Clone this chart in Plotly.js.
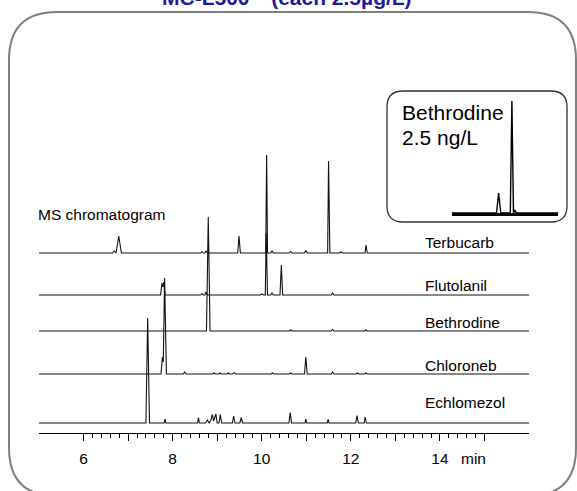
<!DOCTYPE html>
<html>
<head>
<meta charset="utf-8">
<script src="https://cdn.plot.ly/plotly-3.0.1.min.js"></script>
<style>html,body{margin:0;padding:0;background:#fff}</style>
</head>
<body>
<div id="chart" style="width:577px;height:491px"></div>
<script>
// ---- data (retention time in min, signal in arbitrary units) ----
const compounds = ['Terbucarb', 'Flutolanil', 'Bethrodine', 'Chloroneb', 'Echlomezol'];

const terbucarbT = [5.00, 6.65, 6.69, 6.72, 6.73, 6.79, 6.85, 8.63, 8.66, 8.69, 8.72, 8.75, 8.78, 9.46, 9.49, 9.52, 10.09, 10.11, 10.13, 10.20, 10.23, 10.26, 10.62, 10.65, 10.68, 10.96, 10.99, 11.02, 11.48, 11.50, 11.53, 11.75, 11.78, 11.81, 12.32, 12.34, 12.37, 16.00];
const terbucarbV = [0, 0, 2, 0, 0, 17, 0, 0, 1.5, 0, 0, 2, 0, 0, 17, 0, 0, 98, 0, 0, 2, 0, 0, 1.5, 0, 0, 2.5, 0, 0, 92, 0, 0, 1, 0, 0, 8, 0, 0];

const flutolanilT = [5.00, 7.73, 7.76, 7.78, 7.80, 7.83, 8.63, 8.66, 8.69, 8.72, 8.75, 8.78, 9.97, 10.00, 10.04, 10.08, 10.10, 10.13, 10.20, 10.23, 10.26, 10.41, 10.44, 10.47, 11.56, 11.59, 11.62, 16.00];
const flutolanilV = [0, 0, 12, 8, 13, 0, 0, 1.5, 0, 0, 3, 0, 0, 1, 0, 0, 62, 0, 0, 2, 0, 0, 30, 0, 0, 2, 0, 0];

const bethrodineT = [5.00, 8.76, 8.80, 8.84, 10.62, 10.65, 10.68, 11.56, 11.59, 11.62, 12.31, 12.34, 12.37, 16.00];
const bethrodineV = [0, 0, 114, 0, 0, 1, 0, 0, 1.5, 0, 0, 1, 0, 0];

const chloronebT = [5.00, 7.74, 7.77, 7.79, 7.82, 7.86, 8.24, 8.27, 8.30, 8.90, 8.93, 8.96, 9.03, 9.06, 9.09, 9.22, 9.25, 9.28, 9.35, 9.38, 9.41, 10.21, 10.24, 10.27, 10.62, 10.65, 10.68, 10.96, 10.99, 11.02, 11.56, 11.59, 11.62, 12.12, 12.15, 12.18, 12.31, 12.34, 12.37, 16.00];
const chloronebV = [0, 0, 17, 12, 96, 0, 0, 2, 0, 0, 1, 0, 0, 1, 0, 0, 1, 0, 0, 1.5, 0, 0, 1, 0, 0, 1, 0, 0, 17, 0, 0, 2, 0, 0, 1, 0, 0, 1, 0, 0];

const echlomezolT = [5.00, 7.40, 7.44, 7.48, 7.81, 7.83, 7.85, 8.56, 8.58, 8.60, 8.74, 8.78, 8.82, 8.86, 8.89, 8.92, 8.97, 9.00, 9.04, 9.07, 9.10, 9.34, 9.37, 9.40, 9.51, 9.54, 9.57, 10.61, 10.64, 10.67, 10.97, 10.99, 11.01, 11.47, 11.49, 11.51, 12.11, 12.14, 12.17, 12.30, 12.32, 12.35, 16.00];
const echlomezolV = [0, 0, 105, 0, 0, 4, 0, 0, 5.5, 0, 0, 3, 0, 3, 8.5, 2, 9, 0, 0, 8.5, 0, 0, 7, 0, 0, 5.5, 0, 0, 10.5, 0, 0, 4, 0, 0, 3.5, 0, 0, 7.5, 0, 0, 6, 0, 0];

// inset: Bethrodine at 2.5 ng/L
const insetT = [8.30, 8.72, 8.74, 8.76, 8.85, 8.865, 8.88, 8.89, 8.905, 8.92, 9.30];
const insetV = [0, 0, 20, 0, 0, 112, 0, 3, 0.5, 0, 0];

const tickLabels = ['6', '', '8', '', '10', '', '12', '', '14', ''];
const tickValues = [6, 7, 8, 9, 10, 11, 12, 13, 14, 15];

const titleText = 'MC-L500"  (each 2.5µg/L)';
const axisUnit = 'min';
const yLabel = 'MS chromatogram';
const insetLabel = ['Bethrodine', '2.5 ng/L'];

// ---- layout helpers (pixel -> paper) ----
const W = 577, H = 491;
const px = x => x / W;
const py = y => 1 - y / H;
function roundRect(x0, y0, x1, y1, r) {
  const p = (x, y) => px(x) + ',' + py(y);
  return 'M' + p(x0 + r, y0) + ' L' + p(x1 - r, y0) + ' Q' + p(x1, y0) + ' ' + p(x1, y0 + r) +
    ' L' + p(x1, y1 - r) + ' Q' + p(x1, y1) + ' ' + p(x1 - r, y1) +
    ' L' + p(x0 + r, y1) + ' Q' + p(x0, y1) + ' ' + p(x0, y1 - r) +
    ' L' + p(x0, y0 + r) + ' Q' + p(x0, y0) + ' ' + p(x0 + r, y0) + ' Z';
}

const offsets = [180, 138, 102, 59, 10]; // vertical stacking of the five traces
const seriesT = [terbucarbT, flutolanilT, bethrodineT, chloronebT, echlomezolT];
const seriesV = [terbucarbV, flutolanilV, bethrodineV, chloronebV, echlomezolV];

const traces = compounds.map((name, i) => ({
  type: 'scatter', mode: 'lines', name: name,
  x: seriesT[i], y: seriesV[i].map(v => v + offsets[i]),
  line: {color: '#111', width: 1.1}, xaxis: 'x', yaxis: 'y', hoverinfo: 'skip'
}));
traces.push({
  type: 'scatter', mode: 'lines', name: 'inset',
  x: insetT, y: insetV, line: {color: '#000', width: 1.4},
  xaxis: 'x2', yaxis: 'y2', hoverinfo: 'skip'
});

const minorVals = [];
for (let k = 0; k <= 45; k++) { if (k % 5) minorVals.push(+(6 + k * 0.2).toFixed(1)); }

const font = 'Arial, "Liberation Sans", sans-serif';
const labelY = [242, 285, 322, 365, 402];
const annotations = compounds.map((c, i) => ({
  text: c, xref: 'paper', yref: 'paper', x: px(423), y: py(labelY[i]),
  xanchor: 'left', yanchor: 'middle', showarrow: false,
  font: {family: font, size: 15.5, color: '#000'}
}));
annotations.push(
  {text: yLabel, xref: 'paper', yref: 'paper', x: px(36), y: py(215), xanchor: 'left', yanchor: 'middle',
   showarrow: false, font: {family: font, size: 15.5, color: '#000'}},
  {text: axisUnit, xref: 'paper', yref: 'paper', x: px(459), y: py(458), xanchor: 'left', yanchor: 'middle',
   showarrow: false, font: {family: font, size: 15.5, color: '#000'}},
  {text: insetLabel[0], xref: 'paper', yref: 'paper', x: px(400), y: py(112), xanchor: 'left', yanchor: 'middle',
   showarrow: false, font: {family: font, size: 21, color: '#000'}},
  {text: insetLabel[1], xref: 'paper', yref: 'paper', x: px(400), y: py(137), xanchor: 'left', yanchor: 'middle',
   showarrow: false, font: {family: font, size: 21, color: '#000'}},
  {text: '<b>' + titleText + '</b>', xref: 'paper', yref: 'paper', x: px(287), y: py(11), xanchor: 'center', yanchor: 'bottom',
   showarrow: false, font: {family: font, size: 21, color: '#1a1a99'}}
);

const layout = {
  width: W, height: H, autosize: false,
  margin: {l: 0, r: 0, t: 0, b: 0, pad: 0},
  paper_bgcolor: '#fff', plot_bgcolor: 'rgba(0,0,0,0)',
  showlegend: false,
  xaxis: {
    domain: [px(39), px(529)], range: [5, 16], anchor: 'y',
    showline: true, linecolor: '#000', linewidth: 1,
    ticks: 'outside', tickmode: 'array', tickvals: tickValues, ticktext: tickLabels,
    ticklen: 7, tickwidth: 1, tickcolor: '#000', ticklabelstandoff: 4,
    minor: {tickmode: 'array', tickvals: minorVals, ticks: 'outside', ticklen: 4, tickwidth: 1, tickcolor: '#000', showgrid: false},
    showgrid: false, zeroline: false, fixedrange: true,
    tickfont: {family: font, size: 15.5, color: '#000'}
  },
  yaxis: {domain: [py(433), py(60)], range: [0, 373], visible: false, fixedrange: true},
  xaxis2: {domain: [px(452), px(558)], range: [8.3, 9.3], anchor: 'y2',
    showline: true, linecolor: '#000', linewidth: 3, ticks: '', showticklabels: false,
    showgrid: false, zeroline: false, fixedrange: true},
  yaxis2: {domain: [py(213), py(100)], range: [0, 113], anchor: 'x2', visible: false, fixedrange: true},
  shapes: [
    {type: 'path', xref: 'paper', yref: 'paper', path: roundRect(9, 12, 576, 496, 48),
     line: {color: '#808080', width: 2}, fillcolor: 'rgba(0,0,0,0)', layer: 'below'},
    {type: 'path', xref: 'paper', yref: 'paper', path: roundRect(387, 91, 567, 222, 16),
     line: {color: '#333', width: 1.3}, fillcolor: 'rgba(0,0,0,0)', layer: 'below'}
  ],
  annotations: annotations
};

Plotly.newPlot('chart', traces, layout, {displayModeBar: false, staticPlot: true});
</script>
</body>
</html>
